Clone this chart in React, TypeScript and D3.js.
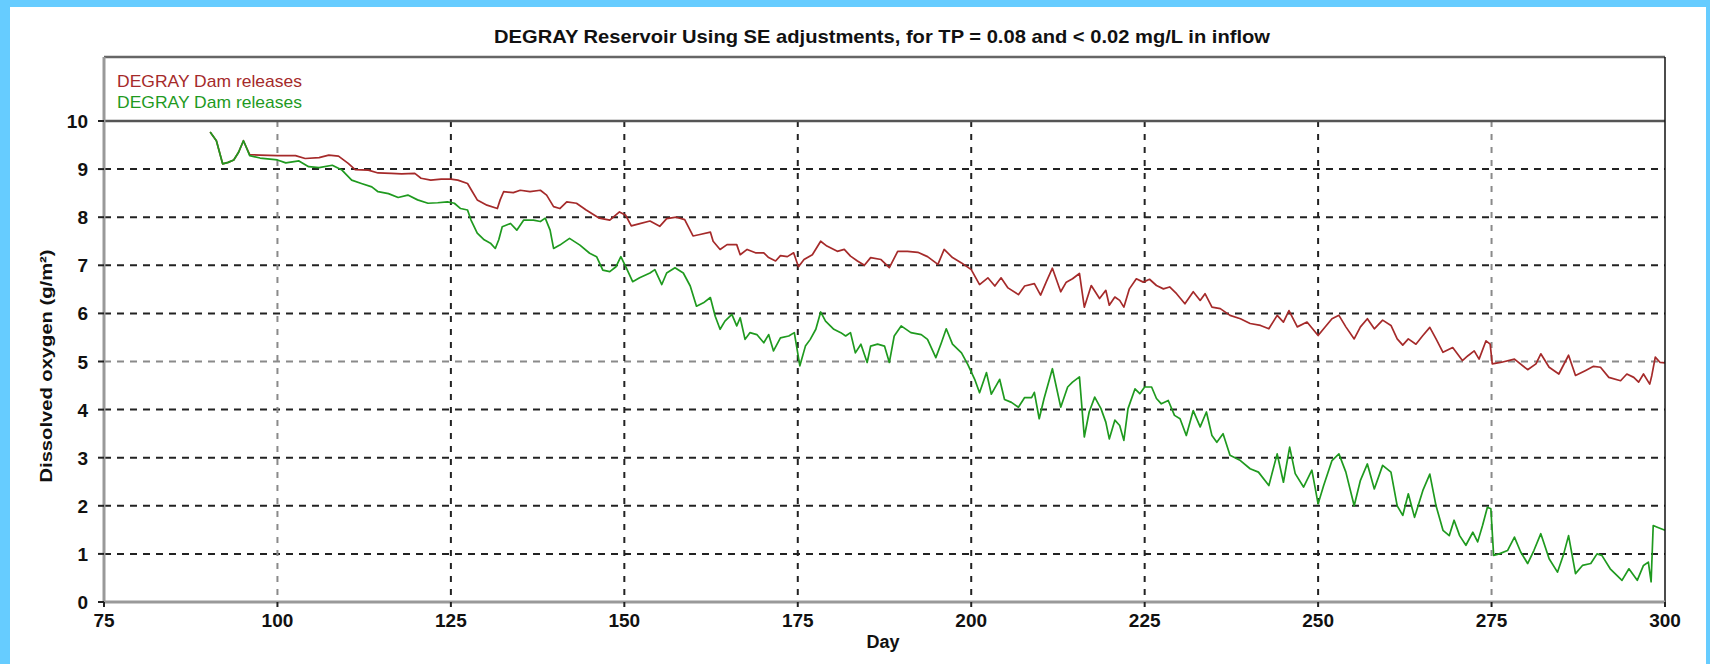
import React from "react";
import * as d3 from "d3";

const title = "DEGRAY Reservoir Using SE adjustments, for TP = 0.08 and < 0.02 mg/L in inflow";
const seriesNames = ["DEGRAY Dam releases", "DEGRAY Dam releases"];
const xTicks = [75, 100, 125, 150, 175, 200, 225, 250, 275, 300];
const yTicks = [0, 1, 2, 3, 4, 5, 6, 7, 8, 9, 10];
const xLabel = "Day";
const yLabel = "Dissolved oxygen (g/m²)";

const redDays = [90.3, 91.2, 92.1, 92.9, 93.7, 94.4, 95.1, 95.4, 96.0, 97.5, 100, 102.6, 104, 106, 107.4, 108.8, 110.2, 111.2, 113.1, 114.5, 116.4, 117.9, 119.8, 120.7, 122.1, 123.6, 125, 126, 127.4, 128.1, 128.8, 130.2, 131.7, 132.1, 132.6, 134, 135, 136.4, 137.9, 138.8, 139.8, 140.7, 141.7, 143.1, 144.5, 146.4, 147.9, 149.3, 150.2, 151, 152.1, 153.7, 155.1, 156.1, 157.5, 158.7, 159.9, 160.9, 162.4, 162.8, 163.8, 164.8, 166.2, 166.7, 167.7, 168.9, 170.1, 170.8, 171.8, 172.5, 173.5, 174.4, 175.1, 175.9, 177.1, 178.3, 179.2, 180.7, 181.7, 182.6, 183.6, 184.6, 185.5, 187, 188.2, 189.4, 190.8, 192.3, 193.7, 195.2, 196.1, 197.3, 198.6, 200, 201.2, 202.4, 203.4, 204.3, 205.3, 206.8, 207.7, 209.1, 210, 210.8, 211.7, 212.9, 213.7, 214.6, 215.6, 216.3, 217.3, 218.5, 219.4, 219.9, 220.7, 221.4, 222, 222.8, 223.8, 224.8, 225.7, 226.7, 227.7, 228.6, 229.6, 230.8, 232, 233, 233.7, 234.7, 235.9, 237.3, 238.8, 240.2, 241.7, 242.9, 244.1, 245, 245.8, 247, 248.4, 250, 250.8, 252, 253, 254, 255.2, 256.1, 257.1, 258.1, 259.3, 260.5, 261.4, 262.2, 263, 264.1, 265.1, 266.1, 267, 268, 269.4, 270.8, 271.6, 272.5, 273.2, 274.2, 274.8, 275.1, 276.3, 278.3, 280.2, 281.4, 282.1, 283.3, 284.7, 286.1, 287.1, 288.5, 289.7, 290.7, 291.9, 293.6, 294.5, 295.5, 296.2, 296.9, 297.8, 298.1, 298.6, 299.3, 300];
const redDO = [9.77, 9.59, 9.11, 9.14, 9.19, 9.35, 9.59, 9.49, 9.30, 9.29, 9.28, 9.28, 9.22, 9.24, 9.29, 9.27, 9.12, 8.99, 8.98, 8.92, 8.91, 8.9, 8.91, 8.81, 8.77, 8.79, 8.79, 8.77, 8.70, 8.53, 8.36, 8.25, 8.18, 8.36, 8.53, 8.51, 8.56, 8.53, 8.56, 8.46, 8.22, 8.18, 8.32, 8.29, 8.15, 7.98, 7.94, 8.11, 8.04, 7.82, 7.86, 7.92, 7.81, 7.97, 8.0, 7.95, 7.61, 7.64, 7.69, 7.50, 7.33, 7.43, 7.43, 7.22, 7.33, 7.26, 7.26, 7.16, 7.09, 7.20, 7.18, 7.26, 6.97, 7.12, 7.22, 7.50, 7.40, 7.29, 7.33, 7.19, 7.09, 7.00, 7.16, 7.12, 6.95, 7.29, 7.29, 7.27, 7.18, 7.02, 7.33, 7.16, 7.05, 6.91, 6.60, 6.74, 6.57, 6.74, 6.53, 6.39, 6.57, 6.62, 6.38, 6.65, 6.94, 6.45, 6.65, 6.72, 6.83, 6.13, 6.58, 6.31, 6.48, 6.17, 6.34, 6.27, 6.13, 6.51, 6.72, 6.65, 6.71, 6.58, 6.51, 6.55, 6.41, 6.20, 6.45, 6.27, 6.41, 6.13, 6.10, 5.96, 5.89, 5.79, 5.75, 5.68, 5.96, 5.82, 6.06, 5.72, 5.82, 5.54, 5.68, 5.89, 5.96, 5.72, 5.47, 5.72, 5.89, 5.68, 5.86, 5.75, 5.47, 5.34, 5.47, 5.36, 5.54, 5.71, 5.47, 5.19, 5.29, 5.02, 5.12, 5.22, 5.05, 5.43, 5.36, 4.95, 4.98, 5.05, 4.83, 4.95, 5.16, 4.88, 4.74, 5.13, 4.71, 4.81, 4.90, 4.88, 4.67, 4.60, 4.74, 4.67, 4.57, 4.74, 4.53, 4.71, 5.09, 4.98, 4.97];

const greenDays = [90.3, 91.2, 92.1, 92.9, 93.7, 94.4, 95.1, 95.4, 96.0, 97.5, 100, 101.2, 103.1, 104.5, 106, 107.9, 109.3, 110.7, 112.1, 113.6, 114.5, 116, 117.4, 118.8, 120.2, 121.7, 123.1, 124.5, 125.5, 126.4, 127.4, 127.9, 128.8, 129.8, 130.7, 131.4, 131.9, 132.4, 133.6, 134.5, 135.5, 136.9, 137.9, 138.6, 139.3, 139.8, 140.7, 142.1, 143.6, 145, 146, 146.9, 147.9, 148.8, 149.5, 150.2, 151.2, 152.2, 153.7, 154.4, 155.4, 156.1, 157.3, 158.5, 159.5, 160.4, 161.4, 162.4, 163.1, 163.8, 164.5, 165.5, 166.2, 166.7, 167.4, 168.1, 169.1, 170.1, 170.8, 171.5, 172.5, 173.7, 174.5, 175.3, 176.1, 176.8, 177.6, 178.3, 179, 180.2, 181.2, 181.9, 182.6, 183.3, 184.1, 185, 185.5, 186.5, 187.5, 188.2, 188.9, 189.9, 191.3, 192.8, 193.7, 194.9, 195.7, 196.4, 197.3, 198.6, 199.5, 200.5, 201.2, 202.2, 202.9, 204.1, 204.8, 205.8, 206.8, 207.7, 208.7, 209.1, 209.8, 210.5, 211.7, 212.9, 213.9, 214.6, 215.6, 216.3, 217, 217.8, 218.7, 219.4, 219.9, 220.7, 221.4, 222, 222.6, 223.6, 224.3, 225, 226, 226.7, 227.4, 228.4, 229.3, 230.1, 231, 232, 233, 233.9, 234.7, 235.4, 236.3, 237.3, 238.8, 240.2, 241.4, 242.9, 244.1, 245, 245.9, 246.7, 247.9, 249.1, 250, 250.8, 252, 253, 254, 255.2, 256.1, 257.1, 258.1, 259.3, 260.5, 261.4, 262.2, 263, 263.9, 265.1, 266.1, 267, 268, 268.9, 269.6, 270.4, 271.3, 272.3, 273, 273.7, 274.4, 274.9, 275.3, 276.1, 277.3, 278.3, 279.2, 280.2, 281.1, 282.1, 283.3, 284.5, 285.4, 286.1, 287.1, 288.1, 289.3, 290.2, 290.9, 292.1, 293.8, 294.8, 296, 296.9, 297.6, 298, 298.3, 298.8, 300];
const greenDO = [9.77, 9.59, 9.11, 9.14, 9.19, 9.35, 9.59, 9.49, 9.28, 9.23, 9.19, 9.13, 9.17, 9.05, 9.03, 9.08, 8.98, 8.77, 8.70, 8.63, 8.53, 8.49, 8.41, 8.46, 8.36, 8.29, 8.30, 8.32, 8.29, 8.18, 8.15, 7.94, 7.67, 7.53, 7.46, 7.35, 7.53, 7.80, 7.87, 7.73, 7.94, 7.94, 7.91, 7.98, 7.73, 7.35, 7.42, 7.56, 7.42, 7.25, 7.18, 6.90, 6.87, 6.97, 7.18, 6.97, 6.66, 6.74, 6.84, 6.91, 6.60, 6.84, 6.95, 6.84, 6.57, 6.15, 6.22, 6.33, 5.94, 5.67, 5.84, 5.98, 5.74, 5.91, 5.46, 5.60, 5.56, 5.39, 5.56, 5.22, 5.49, 5.53, 5.60, 4.91, 5.32, 5.46, 5.67, 6.03, 5.84, 5.67, 5.60, 5.53, 5.60, 5.18, 5.36, 4.98, 5.32, 5.36, 5.32, 4.98, 5.53, 5.74, 5.60, 5.56, 5.46, 5.08, 5.39, 5.68, 5.36, 5.18, 4.94, 4.63, 4.35, 4.77, 4.32, 4.63, 4.21, 4.15, 4.05, 4.25, 4.25, 4.36, 3.81, 4.23, 4.85, 4.05, 4.47, 4.57, 4.68, 3.43, 3.95, 4.26, 4.02, 3.74, 3.39, 3.78, 3.67, 3.36, 4.02, 4.43, 4.33, 4.47, 4.47, 4.23, 4.12, 4.19, 3.88, 3.81, 3.46, 3.98, 3.64, 3.95, 3.46, 3.32, 3.50, 3.05, 2.94, 2.77, 2.70, 2.42, 3.08, 2.49, 3.22, 2.67, 2.39, 2.74, 2.04, 2.42, 2.94, 3.08, 2.70, 2.0, 2.53, 2.87, 2.35, 2.84, 2.70, 2.0, 1.80, 2.25, 1.76, 2.32, 2.66, 2.0, 1.49, 1.38, 1.70, 1.38, 1.18, 1.45, 1.25, 1.59, 1.97, 1.94, 0.97, 1.0, 1.07, 1.35, 1.04, 0.80, 1.07, 1.42, 0.90, 0.62, 1.0, 1.38, 0.59, 0.76, 0.80, 1.0, 0.97, 0.69, 0.45, 0.69, 0.45, 0.76, 0.83, 0.42, 1.59, 1.56, 1.49];

const W = 1710;
const H = 664;
const L = 104, R = 1665, T = 121, B = 602, BOXTOP = 57;
const RED = "#a52a2a";
const GREEN = "#1f9a1f";
const FONT = "'Liberation Sans', Arial, sans-serif";

export default function App() {
  const x = d3.scaleLinear().domain([75, 300]).range([L, R]);
  const y = d3.scaleLinear().domain([0, 10]).range([B, T]);
  const line = d3.line<[number, number]>().x((d) => x(d[0])).y((d) => y(d[1]));
  const redPts = redDays.map((d, i) => [d, redDO[i]] as [number, number]);
  const greenPts = greenDays.map((d, i) => [d, greenDO[i]] as [number, number]);

  return (
    <svg width={W} height={H} style={{ position: "absolute", left: 0, top: 0 }} fontFamily={FONT}>
      <rect x={0} y={0} width={W} height={H} fill="#66ccff" />
      <rect x={10} y={7} width={1696} height={H - 7} fill="#ffffff" />
      <text x={882} y={43} textAnchor="middle" fontWeight="bold" fontSize={19} textLength={776} lengthAdjust="spacingAndGlyphs" fill="#111">{title}</text>

      {yTicks.filter((t) => t > 0 && t < 10).map((t) => (
        <line key={"gy" + t} x1={L} x2={R} y1={y(t)} y2={y(t)} stroke={t === 5 ? "#8a8a8a" : "#222"} strokeWidth={2} strokeDasharray="7,6" />
      ))}
      {xTicks.filter((t) => t > 75 && t < 300).map((t) => (
        <line key={"gx" + t} x1={x(t)} x2={x(t)} y1={T} y2={B} stroke={t === 100 || t === 275 ? "#8a8a8a" : "#222"} strokeWidth={2} strokeDasharray="6,7" />
      ))}

      <path d={line(redPts) || ""} fill="none" stroke={RED} strokeWidth={1.7} strokeLinejoin="round" />
      <path d={line(greenPts) || ""} fill="none" stroke={GREEN} strokeWidth={1.7} strokeLinejoin="round" />

      <line x1={L} x2={R} y1={BOXTOP} y2={BOXTOP} stroke="#666" strokeWidth={2.5} />
      <line x1={L} x2={R} y1={T} y2={T} stroke="#555" strokeWidth={2.5} />
      <line x1={R} x2={R} y1={BOXTOP} y2={B + 2} stroke="#111" strokeWidth={1.5} />
      <line x1={L} x2={L} y1={BOXTOP} y2={B} stroke="#999" strokeWidth={3} />
      <line x1={L} x2={R} y1={B} y2={B} stroke="#999" strokeWidth={3} />

      {yTicks.map((t) => (
        <g key={"yt" + t}>
          <line x1={L - 6} x2={L} y1={y(t)} y2={y(t)} stroke="#222" strokeWidth={2} />
          <text x={88} y={y(t) + 7} textAnchor="end" fontWeight="bold" fontSize={19} fill="#111">{t}</text>
        </g>
      ))}
      {xTicks.map((t) => (
        <g key={"xt" + t}>
          <line x1={x(t)} x2={x(t)} y1={B} y2={B + 5} stroke="#222" strokeWidth={2} />
          <text x={x(t)} y={627} textAnchor="middle" fontWeight="bold" fontSize={19} fill="#111">{t}</text>
        </g>
      ))}

      <text x={883} y={648} textAnchor="middle" fontWeight="bold" fontSize={18} fill="#111">{xLabel}</text>
      <text transform={`translate(52,366) rotate(-90)`} textAnchor="middle" fontWeight="bold" fontSize={17} textLength={233} lengthAdjust="spacingAndGlyphs" fill="#111">{yLabel}</text>

      <text x={117} y={87} fontSize={17} fill={RED} textLength={185} lengthAdjust="spacingAndGlyphs">{seriesNames[0]}</text>
      <text x={117} y={108} fontSize={17} fill={GREEN} textLength={185} lengthAdjust="spacingAndGlyphs">{seriesNames[1]}</text>
    </svg>
  );
}
